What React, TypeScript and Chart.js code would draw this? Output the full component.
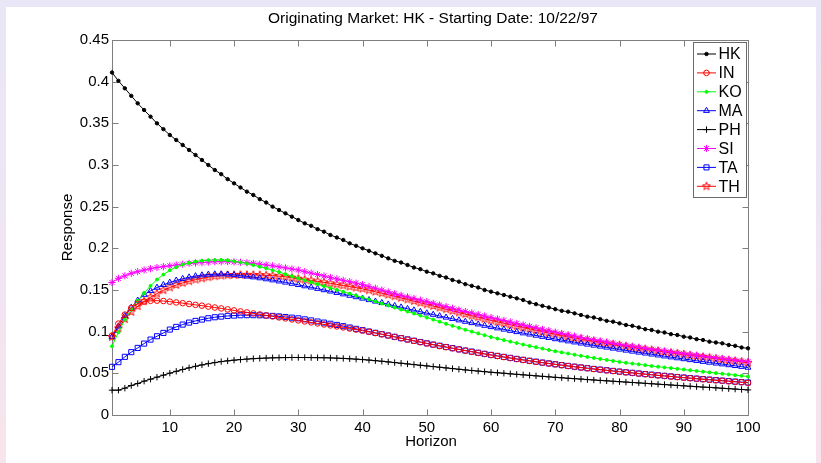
import React, { useEffect, useRef } from 'react';
import { Chart, registerables } from 'chart.js';
import { drawPoint } from 'chart.js/helpers';

Chart.register(...registerables);

const TITLE = 'Originating Market: HK - Starting Date: 10/22/97';
const X_TITLE = 'Horizon';
const Y_TITLE = 'Response';

const horizon = [
  1, 2, 3, 4, 5, 6, 7, 8, 9, 10, 11, 12, 13, 14, 15, 16, 17, 18, 19, 20,
  21, 22, 23, 24, 25, 26, 27, 28, 29, 30, 31, 32, 33, 34, 35, 36, 37, 38, 39, 40,
  41, 42, 43, 44, 45, 46, 47, 48, 49, 50, 51, 52, 53, 54, 55, 56, 57, 58, 59, 60,
  61, 62, 63, 64, 65, 66, 67, 68, 69, 70, 71, 72, 73, 74, 75, 76, 77, 78, 79, 80,
  81, 82, 83, 84, 85, 86, 87, 88, 89, 90, 91, 92, 93, 94, 95, 96, 97, 98, 99, 100,
];

const xTickValues = [10, 20, 30, 40, 50, 60, 70, 80, 90, 100];
const yTickValues = [0, 0.05, 0.1, 0.15, 0.2, 0.25, 0.3, 0.35, 0.4, 0.45];
const yTickLabels = ['0', '0.05', '0.1', '0.15', '0.2', '0.25', '0.3', '0.35', '0.4', '0.45'];

const HK = [
  0.411, 0.401, 0.392, 0.383, 0.374, 0.366, 0.358, 0.350, 0.343, 0.336,
  0.330, 0.324, 0.318, 0.312, 0.306, 0.300, 0.294, 0.289, 0.283, 0.278,
  0.273, 0.268, 0.264, 0.259, 0.255, 0.250, 0.246, 0.242, 0.238, 0.234,
  0.230, 0.227, 0.223, 0.220, 0.216, 0.213, 0.210, 0.206, 0.203, 0.200,
  0.197, 0.194, 0.191, 0.188, 0.185, 0.183, 0.180, 0.177, 0.175, 0.172,
  0.170, 0.167, 0.165, 0.162, 0.160, 0.157, 0.155, 0.153, 0.150, 0.148,
  0.146, 0.144, 0.142, 0.140, 0.138, 0.135, 0.133, 0.131, 0.129, 0.127,
  0.125, 0.124, 0.122, 0.120, 0.118, 0.117, 0.115, 0.113, 0.112, 0.110,
  0.108, 0.107, 0.105, 0.103, 0.102, 0.100, 0.099, 0.097, 0.096, 0.094,
  0.093, 0.091, 0.090, 0.088, 0.087, 0.086, 0.084, 0.083, 0.081, 0.080,
];

const IN = [
  0.0953, 0.1097, 0.1205, 0.1285, 0.1335, 0.136, 0.137, 0.1372, 0.1368, 0.136,
  0.1351, 0.1342, 0.1332, 0.1322, 0.1312, 0.1301, 0.129, 0.1279, 0.1267, 0.1255,
  0.1243, 0.1231, 0.1219, 0.1207, 0.1195, 0.1183, 0.1171, 0.1159, 0.1147, 0.1135,
  0.1123, 0.1111, 0.1099, 0.1087, 0.1075, 0.1063, 0.1051, 0.1038, 0.1025, 0.1012,
  0.0998, 0.0983, 0.0968, 0.0953, 0.0937, 0.0921, 0.0905, 0.0889, 0.0873, 0.0858,
  0.0843, 0.0828, 0.0814, 0.08, 0.0786, 0.0772, 0.0758, 0.0745, 0.0732, 0.0719,
  0.0707, 0.0695, 0.0683, 0.0671, 0.066, 0.0649, 0.0638, 0.0627, 0.0617, 0.0607,
  0.0597, 0.0587, 0.0578, 0.0569, 0.056, 0.0551, 0.0543, 0.0535, 0.0527, 0.0519,
  0.0511, 0.0504, 0.0496, 0.0489, 0.0482, 0.0475, 0.0468, 0.0461, 0.0454, 0.0447,
  0.0441, 0.0434, 0.0428, 0.0422, 0.0416, 0.041, 0.0404, 0.0398, 0.0392, 0.0386,
];

const KO = [
  0.0825, 0.0993, 0.1145, 0.1265, 0.1373, 0.1465, 0.155, 0.1625, 0.1685, 0.1737,
  0.1773, 0.1805, 0.1825, 0.184, 0.1852, 0.1857, 0.186, 0.186, 0.1855, 0.1845,
  0.1832, 0.1817, 0.18, 0.178, 0.176, 0.1738, 0.1715, 0.169, 0.1665, 0.164,
  0.1617, 0.1594, 0.1571, 0.1548, 0.1525, 0.1502, 0.1479, 0.1456, 0.1433, 0.141,
  0.1386, 0.1362, 0.1338, 0.1314, 0.129, 0.1266, 0.1242, 0.1218, 0.1194, 0.117,
  0.1145, 0.112, 0.1095, 0.107, 0.1046, 0.1023, 0.1001, 0.0979, 0.0957, 0.0935,
  0.0917, 0.0899, 0.0881, 0.0863, 0.0845, 0.0829, 0.0813, 0.0797, 0.0781, 0.0765,
  0.0751, 0.0738, 0.0724, 0.0711, 0.0697, 0.0685, 0.0673, 0.0661, 0.0649, 0.0637,
  0.0627, 0.0617, 0.0608, 0.0598, 0.0588, 0.058, 0.0571, 0.0563, 0.0554, 0.0546,
  0.0537, 0.0529, 0.052, 0.0512, 0.0503, 0.0495, 0.0487, 0.0478, 0.047, 0.0462,
];

const MA = [
  0.0938, 0.1065, 0.119, 0.129, 0.1375, 0.1445, 0.149, 0.153, 0.1562, 0.159,
  0.1615, 0.1635, 0.1653, 0.1667, 0.1678, 0.1686, 0.169, 0.169, 0.1687, 0.1681,
  0.1673, 0.1664, 0.1654, 0.1643, 0.1631, 0.1618, 0.1605, 0.1591, 0.1577, 0.1562,
  0.1547, 0.1532, 0.1516, 0.15, 0.1484, 0.1467, 0.145, 0.1433, 0.1416, 0.1399,
  0.1381, 0.1363, 0.1346, 0.1328, 0.131, 0.1293, 0.1275, 0.1257, 0.124, 0.1222,
  0.1205, 0.1188, 0.1171, 0.1155, 0.1138, 0.1121, 0.1105, 0.1089, 0.1073, 0.1057,
  0.1042, 0.1027, 0.1012, 0.0997, 0.0982, 0.0968, 0.0954, 0.094, 0.0926, 0.0912,
  0.0899, 0.0886, 0.0873, 0.086, 0.0847, 0.0835, 0.0823, 0.0811, 0.0799, 0.0787,
  0.0775, 0.0763, 0.0751, 0.074, 0.0728, 0.0717, 0.0705, 0.0694, 0.0683, 0.0672,
  0.0661, 0.0651, 0.064, 0.063, 0.062, 0.061, 0.06, 0.059, 0.058, 0.057,
];

const PH = [
  0.0298, 0.0298, 0.0322, 0.0354, 0.0378, 0.0406, 0.043, 0.0454, 0.0478, 0.0502,
  0.0524, 0.0546, 0.0566, 0.0584, 0.0601, 0.0616, 0.0629, 0.0641, 0.065, 0.0658,
  0.0665, 0.0671, 0.0676, 0.068, 0.0683, 0.0686, 0.0688, 0.0689, 0.069, 0.069,
  0.069, 0.0689, 0.0688, 0.0687, 0.0685, 0.0682, 0.0679, 0.0675, 0.067, 0.0665,
  0.0659, 0.0652, 0.0645, 0.0637, 0.0629, 0.0621, 0.0613, 0.0605, 0.0597, 0.0589,
  0.0581, 0.0573, 0.0565, 0.0557, 0.0549, 0.0541, 0.0534, 0.0527, 0.052, 0.0513,
  0.0507, 0.0501, 0.0494, 0.0488, 0.0482, 0.0476, 0.047, 0.0464, 0.0458, 0.0452,
  0.0447, 0.0441, 0.0436, 0.0431, 0.0425, 0.042, 0.0415, 0.041, 0.0405, 0.04,
  0.0395, 0.039, 0.0385, 0.038, 0.0375, 0.037, 0.0365, 0.036, 0.0355, 0.035,
  0.0345, 0.034, 0.0335, 0.0331, 0.0326, 0.0321, 0.0316, 0.0311, 0.0306, 0.0301,
];

const SI = [
  0.159, 0.164, 0.167, 0.17, 0.172, 0.174, 0.1755, 0.177, 0.178, 0.179,
  0.18, 0.181, 0.182, 0.1825, 0.183, 0.1835, 0.184, 0.184, 0.184, 0.1837,
  0.1833, 0.1828, 0.182, 0.181, 0.18, 0.179, 0.1778, 0.1765, 0.1752, 0.174,
  0.172, 0.1703, 0.1686, 0.1668, 0.165, 0.1633, 0.1616, 0.1599, 0.1582, 0.1565,
  0.1543, 0.1521, 0.1499, 0.1477, 0.1455, 0.1436, 0.1417, 0.1398, 0.1379, 0.136,
  0.134, 0.132, 0.13, 0.128, 0.126, 0.1242, 0.1224, 0.1206, 0.1188, 0.117,
  0.1152, 0.1134, 0.1116, 0.1098, 0.108, 0.1063, 0.1046, 0.1029, 0.1012, 0.0995,
  0.0979, 0.0963, 0.0947, 0.0931, 0.0915, 0.0902, 0.0888, 0.0875, 0.0861, 0.0848,
  0.0836, 0.0824, 0.0812, 0.08, 0.0788, 0.0777, 0.0767, 0.0756, 0.0746, 0.0735,
  0.0725, 0.0715, 0.0705, 0.0695, 0.0685, 0.0676, 0.0667, 0.0658, 0.0649, 0.064,
];

const TA = [
  0.0578, 0.0634, 0.0698, 0.0754, 0.0805, 0.0857, 0.0905, 0.0945, 0.0985, 0.1025,
  0.1057, 0.1085, 0.1109, 0.1129, 0.1145, 0.1161, 0.1173, 0.1181, 0.1189, 0.1193,
  0.1197, 0.1198, 0.1198, 0.1196, 0.1193, 0.1189, 0.1183, 0.1176, 0.1168, 0.116,
  0.1148, 0.1135, 0.1122, 0.1109, 0.1095, 0.1081, 0.1066, 0.105, 0.1034, 0.1018,
  0.1002, 0.0986, 0.097, 0.0954, 0.0938, 0.0922, 0.0907, 0.0891, 0.0876, 0.086,
  0.0845, 0.0831, 0.0816, 0.0802, 0.0788, 0.0774, 0.0761, 0.0747, 0.0734, 0.0721,
  0.0709, 0.0697, 0.0685, 0.0673, 0.0662, 0.0651, 0.064, 0.0629, 0.0619, 0.0609,
  0.0599, 0.0589, 0.058, 0.0571, 0.0562, 0.0553, 0.0545, 0.0537, 0.0529, 0.0521,
  0.0513, 0.0506, 0.0498, 0.0491, 0.0484, 0.0477, 0.047, 0.0463, 0.0456, 0.045,
  0.0443, 0.0437, 0.0431, 0.0425, 0.0419, 0.0413, 0.0407, 0.0401, 0.0395, 0.039,
];

const TH = [
  0.0935, 0.104, 0.115, 0.1237, 0.1305, 0.1365, 0.1413, 0.1457, 0.1497, 0.153,
  0.156, 0.1585, 0.1605, 0.1625, 0.164, 0.1653, 0.1665, 0.1673, 0.1677, 0.168,
  0.1682, 0.1682, 0.1681, 0.1679, 0.1676, 0.1672, 0.1666, 0.1659, 0.1648, 0.1635,
  0.1625, 0.1614, 0.1603, 0.1592, 0.158, 0.1567, 0.1554, 0.1541, 0.1528, 0.1515,
  0.1497, 0.1479, 0.1461, 0.1443, 0.1425, 0.1406, 0.1386, 0.1367, 0.1347, 0.1328,
  0.1308, 0.1289, 0.1269, 0.125, 0.123, 0.1211, 0.1192, 0.1173, 0.1154, 0.1135,
  0.1118, 0.1101, 0.1084, 0.1067, 0.105, 0.1034, 0.1017, 0.1001, 0.0984, 0.0968,
  0.0953, 0.0939, 0.0924, 0.091, 0.0895, 0.0883, 0.087, 0.0858, 0.0845, 0.0833,
  0.0822, 0.0811, 0.0799, 0.0788, 0.0777, 0.0767, 0.0757, 0.0746, 0.0736, 0.0726,
  0.0716, 0.0706, 0.0696, 0.0686, 0.0676, 0.0666, 0.0656, 0.0647, 0.0637, 0.0627,
];

const seriesNames = ['HK', 'IN', 'KO', 'MA', 'PH', 'SI', 'TA', 'TH'];
const seriesValues = [HK, IN, KO, MA, PH, SI, TA, TH];

type Style = { color: string; marker: string; radius: number; filled: boolean };
const seriesStyles: Style[] = [
  { color: '#000000', marker: 'circle', radius: 1.7, filled: true },
  { color: '#ff0000', marker: 'circle', radius: 2.8, filled: false },
  { color: '#00ff00', marker: 'circle', radius: 1.5, filled: true },
  { color: '#0000ff', marker: 'triangle', radius: 3.4, filled: false },
  { color: '#000000', marker: 'cross', radius: 3.2, filled: false },
  { color: '#ff00ff', marker: 'star', radius: 3.6, filled: false },
  { color: '#0000ff', marker: 'rect', radius: 3.6, filled: false },
  { color: '#ff0000', marker: 'pentagram', radius: 4.2, filled: false },
];

const FONT = '"Liberation Sans", Arial, Helvetica, sans-serif';
const AXIS_COLOR = '#7f7f7f';

function makePentagram(color: string, r: number): HTMLCanvasElement {
  const size = Math.ceil(r * 2 + 3);
  const c = document.createElement('canvas');
  c.width = size;
  c.height = size;
  const g = c.getContext('2d')!;
  const cx = size / 2;
  const cy = size / 2;
  g.beginPath();
  for (let k = 0; k < 10; k++) {
    const ang = -Math.PI / 2 + (k * Math.PI) / 5;
    const rr = k % 2 === 0 ? r : r * 0.42;
    const px = cx + rr * Math.cos(ang);
    const py = cy + rr * Math.sin(ang);
    if (k === 0) g.moveTo(px, py);
    else g.lineTo(px, py);
  }
  g.closePath();
  g.strokeStyle = color;
  g.lineWidth = 1;
  g.stroke();
  return c;
}

export default function App() {
  const ref = useRef<HTMLCanvasElement | null>(null);

  useEffect(() => {
    if (!ref.current) return;
    const styles = seriesStyles.map((s) =>
      s.marker === 'pentagram' ? { ...s, pointStyle: makePentagram(s.color, s.radius) as any } : { ...s, pointStyle: s.marker as any }
    );

    const datasets = seriesNames.map((name, i) => ({
      label: name,
      data: seriesValues[i].map((v, j) => ({ x: horizon[j], y: v })),
      borderColor: styles[i].color,
      borderWidth: 1,
      backgroundColor: styles[i].filled ? styles[i].color : 'rgba(0,0,0,0)',
      pointBorderColor: styles[i].color,
      pointBackgroundColor: styles[i].filled ? styles[i].color : 'rgba(0,0,0,0)',
      pointStyle: styles[i].pointStyle,
      pointRadius: styles[i].radius,
      pointBorderWidth: 1,
      pointHoverRadius: styles[i].radius,
      tension: 0,
      fill: false,
      clip: 8,
    }));

    const matlabPlugin = {
      id: 'matlabDecor',
      beforeDatasetsDraw(chart: any) {
        const { ctx, chartArea: a, scales } = chart;
        const xs = scales.x;
        const ys = scales.y;
        const L = Math.round(a.left) + 0.5;
        const R = Math.round(a.right) + 0.5;
        const T = Math.round(a.top) + 0.5;
        const B = Math.round(a.bottom) + 0.5;
        ctx.save();
        ctx.strokeStyle = AXIS_COLOR;
        ctx.lineWidth = 1;
        ctx.strokeRect(L, T, R - L, B - T);
        ctx.beginPath();
        const TL = 6;
        xs.ticks.forEach((t: any) => {
          const px = Math.round(xs.getPixelForValue(t.value)) + 0.5;
          ctx.moveTo(px, B);
          ctx.lineTo(px, B - TL);
          ctx.moveTo(px, T);
          ctx.lineTo(px, T + TL);
        });
        ys.ticks.forEach((t: any) => {
          const py = Math.round(ys.getPixelForValue(t.value)) + 0.5;
          ctx.moveTo(L, py);
          ctx.lineTo(L + TL, py);
          ctx.moveTo(R, py);
          ctx.lineTo(R - TL, py);
        });
        ctx.stroke();
        ctx.restore();
      },
      afterDraw(chart: any) {
        const { ctx, chartArea: a } = chart;
        ctx.save();
        ctx.fillStyle = '#000';
        ctx.textAlign = 'center';
        ctx.textBaseline = 'middle';
        ctx.font = `15.5px ${FONT}`;
        ctx.fillText(TITLE, (a.left + a.right) / 2 + 3, 19);
        ctx.font = `15px ${FONT}`;
        ctx.fillText(X_TITLE, (a.left + a.right) / 2 + 1, 442);
        ctx.save();
        ctx.translate(68, (a.top + a.bottom) / 2);
        ctx.rotate(-Math.PI / 2);
        ctx.fillText(Y_TITLE, 0, 0);
        ctx.restore();

        // legend
        const bx = 693.5;
        const by = 42.5;
        const bw = 53;
        const bh = 155;
        ctx.fillStyle = '#ffffff';
        ctx.fillRect(bx, by, bw, bh);
        ctx.strokeStyle = '#6a6a6a';
        ctx.lineWidth = 1;
        ctx.strokeRect(bx, by, bw, bh);
        ctx.font = `16px ${FONT}`;
        ctx.textAlign = 'left';
        seriesNames.forEach((name, i) => {
          const yy = 54 + i * 18.9;
          const s = styles[i];
          ctx.strokeStyle = s.color;
          ctx.lineWidth = 1;
          ctx.beginPath();
          ctx.moveTo(697, yy);
          ctx.lineTo(716, yy);
          ctx.stroke();
          ctx.fillStyle = s.filled ? s.color : 'rgba(0,0,0,0)';
          ctx.strokeStyle = s.color;
          drawPoint(ctx, { pointStyle: s.pointStyle, radius: s.radius, rotation: 0, borderWidth: 1 } as any, 706.5, yy);
          ctx.fillStyle = '#000';
          ctx.fillText(name, 718.5, yy + 1);
        });
        ctx.restore();
      },
    };

    const chart = new Chart(ref.current, {
      type: 'line',
      data: { datasets: datasets as any },
      options: {
        responsive: false,
        animation: false,
        devicePixelRatio: 1,
        layout: { padding: { top: 40, right: 73, left: 0, bottom: 0 } },
        plugins: {
          legend: { display: false },
          title: { display: false },
          tooltip: { enabled: false },
        },
        events: [],
        scales: {
          x: {
            type: 'linear',
            min: 1,
            max: 100,
            grid: { display: false, drawTicks: false, tickLength: 0 },
            border: { display: false },
            afterBuildTicks: (s: any) => {
              s.ticks = xTickValues.map((v) => ({ value: v }));
            },
            afterFit: (s: any) => {
              s.height = 48;
            },
            ticks: {
              autoSkip: false,
              maxRotation: 0,
              padding: 4,
              color: '#000',
              font: { family: FONT, size: 15 },
              callback: (v: any) => String(v),
            },
          },
          y: {
            type: 'linear',
            min: 0,
            max: 0.45,
            grid: { display: false, drawTicks: false, tickLength: 0 },
            border: { display: false },
            afterBuildTicks: (s: any) => {
              s.ticks = yTickValues.map((v) => ({ value: v }));
            },
            afterFit: (s: any) => {
              s.width = 112;
            },
            ticks: {
              autoSkip: false,
              padding: 3,
              color: '#000',
              font: { family: FONT, size: 15 },
              callback: (_v: any, idx: number) => yTickLabels[idx],
            },
          },
        },
      },
      plugins: [matlabPlugin],
    });
    return () => chart.destroy();
  }, []);

  return (
    <div
      style={{
        position: 'fixed',
        left: 0,
        top: 0,
        width: 821,
        height: 463,
        background: 'linear-gradient(to bottom, #e9e6f7 0%, #efe5f3 50%, #f8e4ec 100%)',
        overflow: 'hidden',
      }}
    >
      <div style={{ position: 'absolute', left: 6, top: 7, right: 5, bottom: 0, background: '#ffffff' }} />
      <canvas ref={ref} width={821} height={463} style={{ position: 'absolute', left: 0, top: 0 }} />
    </div>
  );
}
